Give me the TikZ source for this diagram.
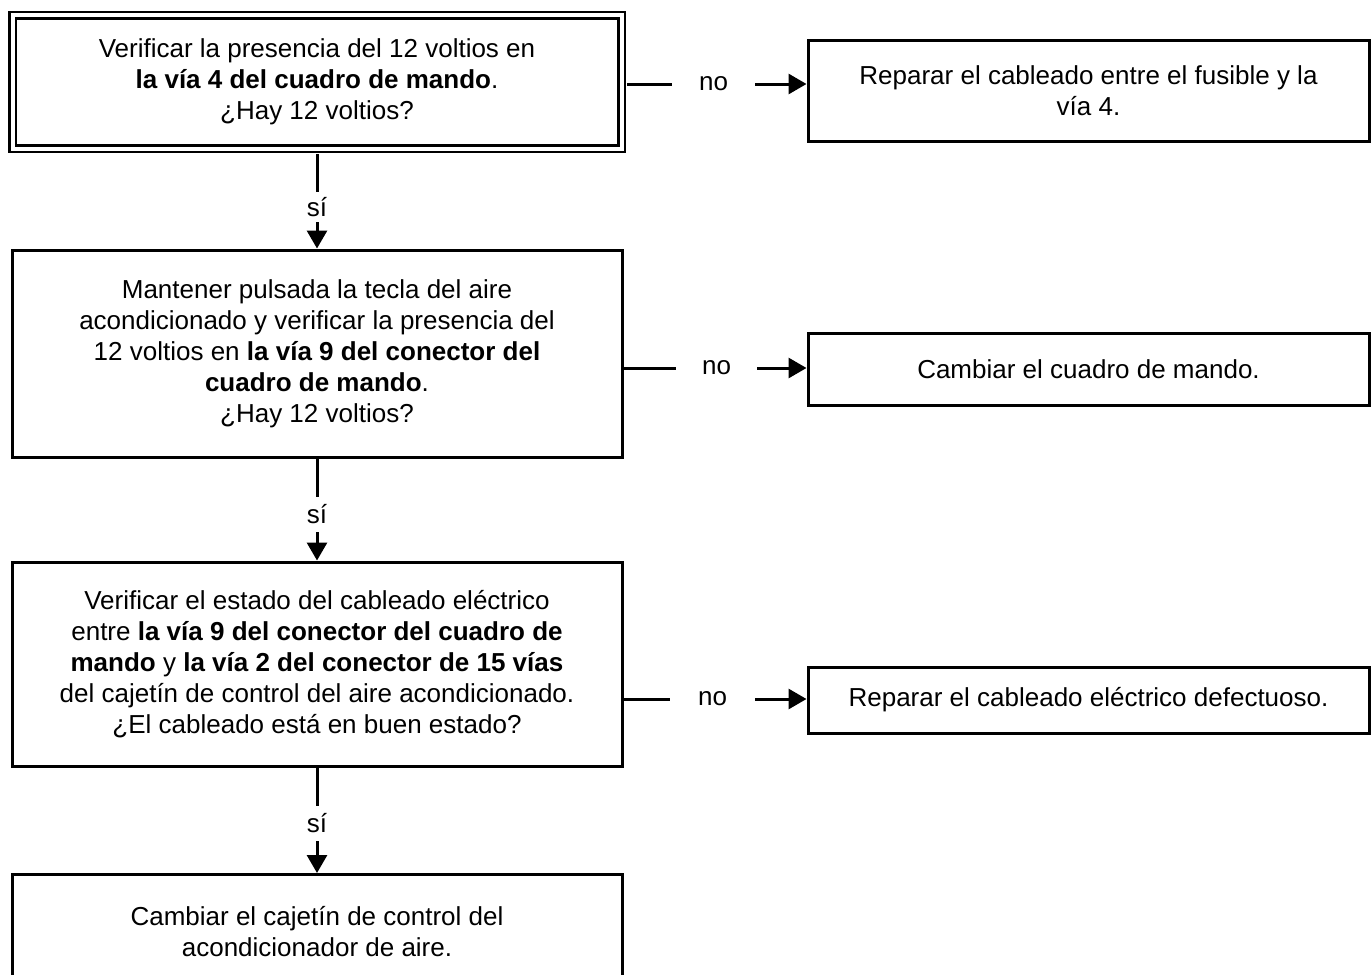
\documentclass[tikz,border=0pt]{standalone}
\usepackage{fontspec}
\setmainfont{Liberation Sans}
\usetikzlibrary{arrows.meta}
\begin{document}
\begin{tikzpicture}[x=1pt,y=-1pt,
  every node/.style={font=\fontsize{26}{31}\selectfont},
  box/.style={draw, line width=3pt, rectangle, align=center, inner sep=0pt},
  dbox/.style={draw, line width=2.5pt, double, double distance=4pt, rectangle, align=center, inner sep=0pt},
  lab/.style={inner sep=0pt, align=center},
  conn/.style={line width=3pt},
  arr/.style={line width=3pt, -{Triangle[length=18pt,width=20pt]}}]
\useasboundingbox (0,0) rectangle (1372,974);
% main boxes
\node[dbox, minimum width=609, minimum height=133] (b1) at (317,82)
  {Verificar la presencia del 12 voltios en\\ \textbf{la vía 4 del cuadro de mando}.\\ ¿Hay 12 voltios?};
\node[box, minimum width=610, minimum height=207] (b2) at (317,353.5)
  {Mantener pulsada la tecla del aire\\ acondicionado y verificar la presencia del\\ 12 voltios en \textbf{la vía 9 del conector del}\\ \textbf{cuadro de mando}.\\ ¿Hay 12 voltios?};
\node[box, minimum width=610, minimum height=204] (b3) at (317,664)
  {Verificar el estado del cableado eléctrico\\ entre \textbf{la vía 9 del conector del cuadro de}\\ \textbf{mando} y \textbf{la vía 2 del conector de 15 vías}\\ del cajetín de control del aire acondicionado.\\ ¿El cableado está en buen estado?};
\node[box, minimum width=610, minimum height=114, anchor=north] (b4) at (317,873)
  {Cambiar el cajetín de control del\\ acondicionador de aire.};
% right boxes
\node[box, minimum width=561, minimum height=100] (r1) at (1088.5,91)
  {Reparar el cableado entre el fusible y la\\ vía 4.};
\node[box, minimum width=561, minimum height=72] (r2) at (1088.5,369)
  {Cambiar el cuadro de mando.};
\node[box, minimum width=561, minimum height=66] (r3) at (1088.5,700)
  {Reparar el cableado eléctrico defectuoso.};
% labels
\node[lab, minimum width=83] (n1) at (713.5,84) {no};
\node[lab, minimum width=81] (n2) at (716.5,368) {no};
\node[lab, minimum width=85] (n3) at (712.5,699) {no};
\node[lab, minimum height=30] (s1) at (317,207) {sí};
\node[lab, minimum height=35] (s2) at (317,514.5) {sí};
\node[lab, minimum height=35] (s3) at (317,823.5) {sí};
% connectors
\draw[conn] ([xshift=4.5pt]b1.east |- n1) -- (n1.west);
\draw[arr] (n1.east) -- (r1.west |- n1);
\draw[conn] (b2.east |- n2) -- (n2.west);
\draw[arr] (n2.east) -- (r2.west |- n2);
\draw[conn] (b3.east |- n3) -- (n3.west);
\draw[arr] (n3.east) -- (r3.west |- n3);
\draw[conn] ([yshift=-4.5pt]b1.south) -- (s1.north);
\draw[arr] (s1.south) -- (b2.north);
\draw[conn] (b2.south) -- (s2.north);
\draw[arr] (s2.south) -- (b3.north);
\draw[conn] (b3.south) -- (s3.north);
\draw[arr] (s3.south) -- (b4.north);
\end{tikzpicture}
\end{document}
